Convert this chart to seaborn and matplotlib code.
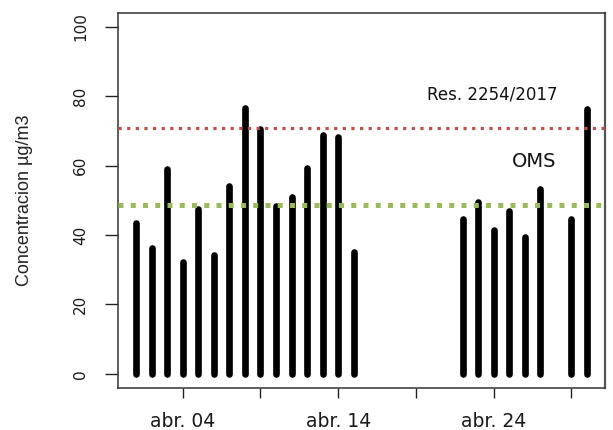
import matplotlib
matplotlib.use("Agg")
import matplotlib.pyplot as plt
import seaborn as sns
import pandas as pd

# ---- data ----
dates = ["2018-04-01", "2018-04-02", "2018-04-03", "2018-04-04", "2018-04-05",
         "2018-04-06", "2018-04-07", "2018-04-08", "2018-04-09", "2018-04-10",
         "2018-04-11", "2018-04-12", "2018-04-13", "2018-04-14", "2018-04-15",
         "2018-04-22", "2018-04-23", "2018-04-24", "2018-04-25", "2018-04-26",
         "2018-04-27", "2018-04-29", "2018-04-30"]
values = [43.6, 36.2, 59.1, 32.2, 47.4, 34.2, 54.0, 76.7, 70.7, 48.4, 51.1,
          59.4, 68.9, 68.4, 35.2, 44.6, 49.6, 41.4, 46.9, 39.4, 53.2, 44.6, 76.4]
res_limit = 71.0
oms_limit = 48.7
tick_dates = ["2018-04-04", "2018-04-09", "2018-04-14", "2018-04-19",
              "2018-04-24", "2018-04-29"]
tick_labels = ["abr. 04", "", "abr. 14", "", "abr. 24", ""]
y_ticks = [0, 20, 40, 60, 80, 100]

df = pd.DataFrame({"fecha": pd.to_datetime(dates), "valor": values})

sns.set_theme(style="white")
plt.rcParams["font.family"] = ["DejaVu Sans"]

fig = plt.figure(figsize=(6.13, 4.30), dpi=100)
ax = fig.add_axes([118 / 613, 1 - 388 / 430, (605 - 118) / 613, (388 - 12.7) / 430])

ax.vlines(df["fecha"], 0, df["valor"], color="black", linewidth=4.8,
          capstyle="round")

ax.axhline(res_limit, color="#C0504D", linewidth=2.3,
           linestyle=(0, (1, 1.7)), dash_capstyle="butt", zorder=3)
ax.axhline(oms_limit, color="#9BBB59", linewidth=3.6,
           linestyle=(0, (1, 1.45)), dash_capstyle="butt", zorder=3)

t0 = pd.Timestamp("2018-04-01")
ax.set_xlim(t0 - pd.Timedelta(days=1.16), pd.Timestamp("2018-04-30") + pd.Timedelta(days=1.16))
ax.set_ylim(-4.1, 104.1)

ax.text(t0 + pd.Timedelta(days=22.9), 80.4, "Res. 2254/2017", fontsize=12,
        ha="center", va="center", color="#111111")
ax.text(t0 + pd.Timedelta(days=25.6), 61.2, "OMS", fontsize=14,
        ha="center", va="center", color="#111111")

ax.set_xticks(pd.to_datetime(tick_dates))
ax.set_xticklabels(tick_labels, fontsize=13.5, color="#1a1a1a")
ax.set_yticks(y_ticks)
ax.set_yticklabels([str(v) for v in y_ticks], fontsize=11, rotation=90,
                   va="center", color="#1a1a1a")

ax.tick_params(axis="x", direction="out", length=7.2, width=1.0, pad=10,
               color="#222222", bottom=True)
ax.tick_params(axis="y", direction="out", length=9.4, width=1.0, pad=12,
               color="#222222", left=True)

ax.set_ylabel("Concentracion µg/m3", fontsize=13, color="#222222",
              family=["Liberation Sans", "DejaVu Sans"])
ax.yaxis.set_label_coords(-0.1745, 0.5)

for s in ax.spines.values():
    s.set_visible(True)
    s.set_color("#333333")
    s.set_linewidth(1.1)
ax.spines["right"].set_color("#555555")
ax.spines["right"].set_linewidth(1.6)

ax.grid(False)
fig.savefig("out.png", dpi=100)
